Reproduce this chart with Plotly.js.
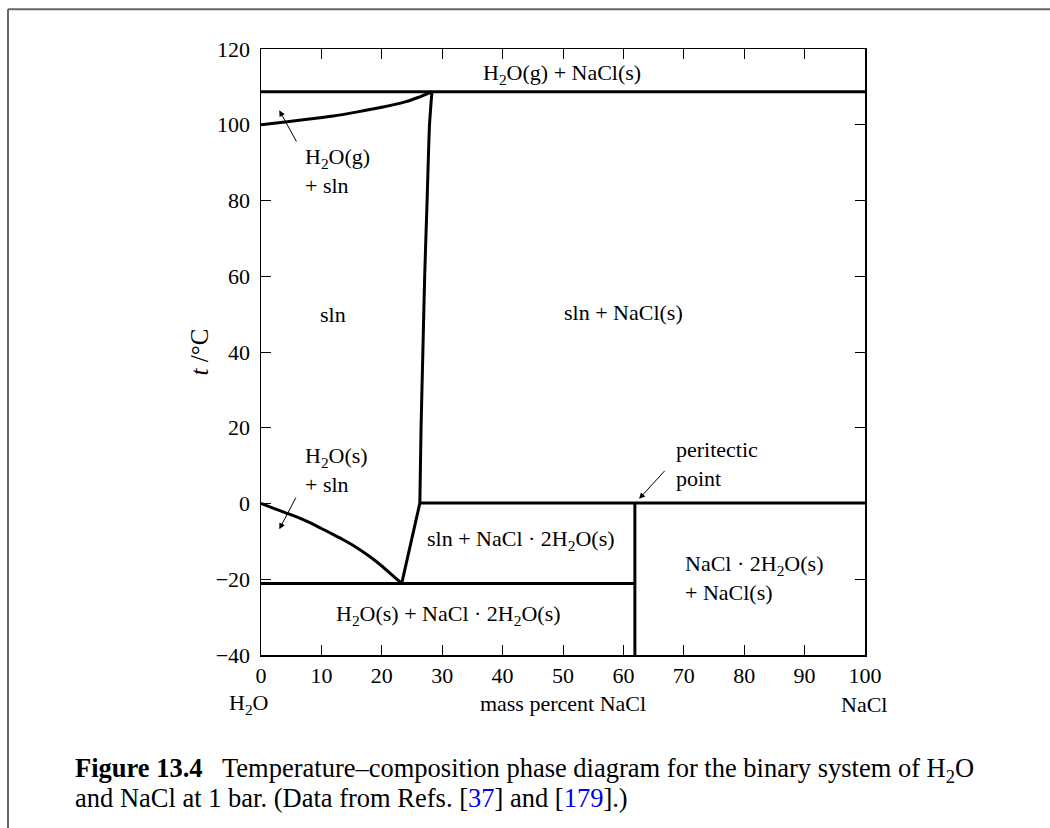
<!DOCTYPE html>
<html>
<head>
<meta charset="utf-8">
<script src="https://cdn.plot.ly/plotly-3.0.1.min.js"></script>
<style>html,body{margin:0;padding:0;background:#fff;}#chart{width:1050px;height:828px;}</style>
</head>
<body>
<div id="chart"></div>
<script>
// ---- data (mass percent NaCl, temperature / °C) ----
const boilX = [0, 4, 8, 12, 16, 20, 24, 26, 28.3];
const boilT = [100, 100.7, 101.5, 102.3, 103.4, 104.6, 106.1, 107.2, 108.7];
const solubX = [28.3, 27.9, 27.5, 27.1, 26.8, 26.5, 26.3];
const solubT = [108.7, 100, 80, 60, 40, 20, 0.1];
const hydrateX = [26.3, 23.3];
const hydrateT = [0.1, -21.1];
const freezeX = [0, 2, 4, 6, 8, 10, 12, 14, 16, 18, 20, 22, 23.3];
const freezeT = [0, -1.2, -2.4, -3.6, -5.0, -6.6, -8.2, -9.9, -11.8, -14.0, -16.5, -19.3, -21.1];
const vaporLineX = [0, 100];
const vaporLineT = [108.7, 108.7];
const peritecticX = [26.3, 100];
const peritecticT = [0.1, 0.1];
const eutecticX = [0, 61.9];
const eutecticT = [-21.1, -21.1];
const hydrateCompX = [61.9, 61.9];
const hydrateCompT = [-40, 0.1];

const xTicks = [0, 10, 20, 30, 40, 50, 60, 70, 80, 90, 100];
const yTicks = [-40, -20, 0, 20, 40, 60, 80, 100, 120];

// ---- layout helpers ----
const W = 1050, H = 828;
const L = 261, R = 865, T = 49.3, B = 655;
const px = v => (v - L) / (R - L);
const py = v => (B - v) / (B - T);
const FONT = '"Liberation Serif", "Times New Roman", Times, serif';

const lineStyle = {color: '#000', width: 3, shape: 'spline', smoothing: 0.6};
function seg(x, y, name) {
  return {x: x, y: y, mode: 'lines', type: 'scatter', line: lineStyle, name: name,
          hoverinfo: 'skip', showlegend: false};
}
const traces = [
  seg(vaporLineX, vaporLineT, 'vapor'),
  seg(boilX, boilT, 'boiling'),
  seg(solubX, solubT, 'solubility'),
  seg(hydrateX, hydrateT, 'hydrate'),
  seg(freezeX, freezeT, 'freezing'),
  seg(peritecticX, peritecticT, 'peritectic'),
  seg(eutecticX, eutecticT, 'eutectic'),
  seg(hydrateCompX, hydrateCompT, 'hydrate composition')
];

function lab(text, x, y, xanchor, align) {
  return {text: text, x: x, y: y, xref: 'x', yref: 'y', showarrow: false,
          xanchor: xanchor || 'center', yanchor: 'middle', align: align || 'center',
          font: {family: FONT, size: 22, color: '#000'}};
}
function arrow(x, y, ax, ay) {
  return {text: '', x: x, y: y, ax: ax, ay: ay, xref: 'x', yref: 'y', axref: 'x', ayref: 'y',
          showarrow: true, arrowhead: 2, arrowsize: 1.2, arrowwidth: 1, arrowcolor: '#000'};
}
function paperLab(text, xp, yp, xanchor, size) {
  return {text: text, x: px(xp), y: py(yp), xref: 'paper', yref: 'paper', showarrow: false,
          xanchor: xanchor, yanchor: 'middle', align: 'left',
          font: {family: FONT, size: size || 22, color: '#000'}};
}

const annotations = [
  lab('H<sub>2</sub>O(g) + NaCl(s)', 49.8, 113.5),
  lab('H<sub>2</sub>O(g)<br>+ sln', 7.0, 87.8, 'left', 'left'),
  lab('sln', 11.9, 49.8),
  lab('sln + NaCl(s)', 60, 50.3),
  lab('H<sub>2</sub>O(s)<br>+ sln', 7.0, 8.8, 'left', 'left'),
  lab('sln + NaCl · 2H<sub>2</sub>O(s)', 43.0, -9.7),
  lab('H<sub>2</sub>O(s) + NaCl · 2H<sub>2</sub>O(s)', 31.0, -29.5),
  lab('peritectic<br>point', 68.4, 10.4, 'left', 'left'),
  lab('NaCl · 2H<sub>2</sub>O(s)<br>+ NaCl(s)', 69.8, -19.7, 'left', 'left'),
  arrow(3.03, 103.8, 6.0, 95.2),
  arrow(3.03, -6.8, 5.9, 1.95),
  arrow(62.6, 1.23, 67.05, 9.0),
  paperLab('H<sub>2</sub>O', 248, 704, 'center'),
  paperLab('NaCl', 864, 704, 'center'),
  paperLab('<b>Figure 13.4</b>   Temperature–composition phase diagram for the binary system of H<sub>2</sub>O', 73, 770, 'left', 26.5),
  paperLab('and NaCl at 1 bar. (Data from Refs. [<span style="color:#0000ee">37</span>] and [<span style="color:#0000ee">179</span>].)', 73, 798, 'left', 26.5)
];

const frameColor = '#666';
const shapes = [
  {type: 'line', xref: 'paper', yref: 'paper', x0: px(8), y0: py(828), x1: px(8), y1: py(9.5),
   line: {color: frameColor, width: 2}},
  {type: 'line', xref: 'paper', yref: 'paper', x0: px(8), y0: py(9.5), x1: px(1050), y1: py(9.5),
   line: {color: frameColor, width: 2}}
];

const axisCommon = {
  showline: true, linecolor: '#000', linewidth: 1.5, mirror: 'ticks',
  ticks: 'inside', ticklen: 10, tickwidth: 1, tickcolor: '#000',
  showgrid: false, zeroline: false, fixedrange: true,
  tickfont: {family: FONT, size: 22, color: '#000'}
};

const layout = {
  width: W, height: H,
  margin: {l: L, r: W - R, t: T, b: H - B},
  paper_bgcolor: '#fff', plot_bgcolor: '#fff',
  showlegend: false,
  font: {family: FONT, size: 22, color: '#000'},
  xaxis: Object.assign({}, axisCommon, {
    range: [0, 100], tickvals: xTicks, ticktext: xTicks.map(String),
    title: {text: 'mass percent NaCl', font: {family: FONT, size: 22, color: '#000'}, standoff: 8}
  }),
  yaxis: Object.assign({}, axisCommon, {
    range: [-40, 120], tickvals: yTicks, ticktext: yTicks.map(v => v < 0 ? '\u2212' + Math.abs(v) : String(v)),
    ticklabelstandoff: 5,
    title: {text: '<i>t</i> /°C', font: {family: FONT, size: 25, color: '#000'}, standoff: 0}
  }),
  annotations: annotations,
  shapes: shapes
};

Plotly.newPlot('chart', traces, layout, {displayModeBar: false, staticPlot: true});
</script>
</body>
</html>
